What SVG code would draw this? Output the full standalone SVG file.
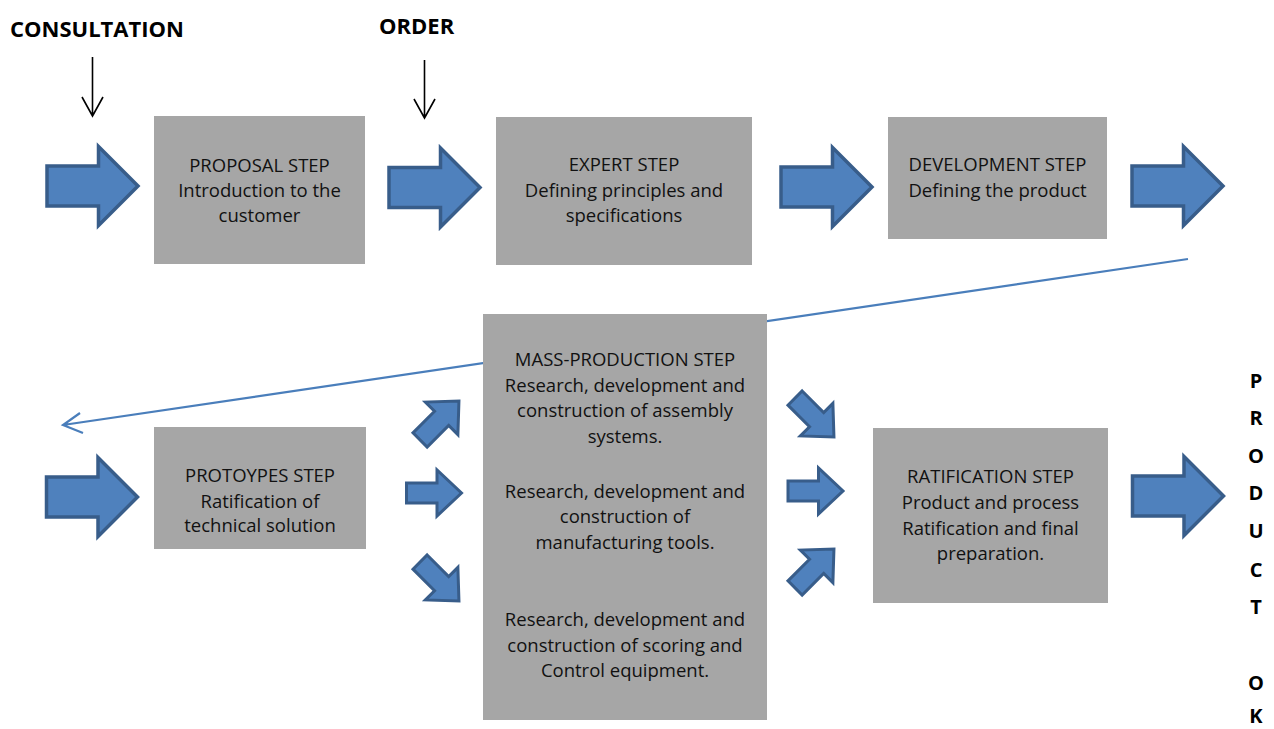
<svg xmlns="http://www.w3.org/2000/svg" xmlns:xlink="http://www.w3.org/1999/xlink" width="1274" height="729" viewBox="0 0 1274 729">
<style>
.box{fill:#A6A6A6}
.t{font-family:"Open Sans","Liberation Sans",sans-serif;font-size:18.5px;fill:#111;text-anchor:middle}
.lb{font-family:"Open Sans","Liberation Sans",sans-serif;font-weight:bold;font-size:22px;fill:#000}
.pk{font-family:"Open Sans","Liberation Sans",sans-serif;font-weight:bold;font-size:20px;fill:#000;text-anchor:middle}
.ba{fill:#4F81BD;stroke:#385D8A;stroke-width:3.5;stroke-linejoin:miter}
.sa{fill:#4F81BD;stroke:#385D8A;stroke-width:3;stroke-linejoin:miter}
.thin{stroke:#000;stroke-width:1.6;fill:none}
.blue{stroke:#4A7EBB;stroke-width:2.2;fill:none}
</style>
<defs>
<path id="big" d="M-45.5,-20 H6 V-39.5 L45.5,0 L6,39.5 V20 H-45.5 Z"/>
<path id="small" d="M-27.5,-10 H3 V-23 L27.5,0 L3,23 V10 H-27.5 Z"/>
</defs>
<rect width="1274" height="729" fill="#fff"/>

<g id="connectors">
<path class="blue" d="M1188,259 L63,425 M80,413 L63,425 L83,433"/>
<path class="thin" d="M92.5,57 V116 M82,97 L92.5,116 L103,97"/>
<path class="thin" d="M424.5,60 V118 M414,99 L424.5,118 L435,99"/>
<use href="#big" class="ba" transform="translate(92.5,186)"/>
<use href="#big" class="ba" transform="translate(434.5,187.5)"/>
<use href="#big" class="ba" transform="translate(826.5,187)"/>
<use href="#big" class="ba" transform="translate(1177.5,186)"/>
<use href="#big" class="ba" transform="translate(92,497)"/>
<use href="#big" class="ba" transform="translate(1178,496)"/>
<use href="#small" class="sa" transform="translate(439.5,420.5) rotate(-45)"/>
<use href="#small" class="sa" transform="translate(434,493)"/>
<use href="#small" class="sa" transform="translate(439.5,581.5) rotate(45)"/>
<use href="#small" class="sa" transform="translate(814.5,417.5) rotate(45)"/>
<use href="#small" class="sa" transform="translate(815.5,491)"/>
<use href="#small" class="sa" transform="translate(814.5,568.5) rotate(-45)"/>
</g>

<g id="label-consultation"><text class="lb" x="10" y="37">CONSULTATION</text></g>
<g id="label-order"><text class="lb" x="379" y="34">ORDER</text></g>

<g id="proposal">
<rect class="box" x="154" y="116" width="211" height="148"/>
<text class="t" x="259.5" y="172">PROPOSAL STEP</text>
<text class="t" x="259.5" y="197">Introduction to the</text>
<text class="t" x="259.5" y="222">customer</text>
</g>

<g id="expert">
<rect class="box" x="496" y="117" width="256" height="148"/>
<text class="t" x="624" y="171">EXPERT STEP</text>
<text class="t" x="624" y="197">Defining principles and</text>
<text class="t" x="624" y="222">specifications</text>
</g>

<g id="development">
<rect class="box" x="888" y="117" width="219" height="122"/>
<text class="t" x="997.5" y="171">DEVELOPMENT STEP</text>
<text class="t" x="997.5" y="197">Defining the product</text>
</g>

<g id="prototypes">
<rect class="box" x="154" y="427" width="212" height="122"/>
<text class="t" x="260" y="482">PROTOYPES STEP</text>
<text class="t" x="260" y="508">Ratification of</text>
<text class="t" x="260" y="532">technical solution</text>
</g>

<g id="mass-production">
<rect class="box" x="483" y="314" width="284" height="406"/>
<text class="t" x="625" y="366">MASS-PRODUCTION STEP</text>
<text class="t" x="625" y="392">Research, development and</text>
<text class="t" x="625" y="417">construction of assembly</text>
<text class="t" x="625" y="443">systems.</text>
<text class="t" x="625" y="498">Research, development and</text>
<text class="t" x="625" y="523">construction of</text>
<text class="t" x="625" y="549">manufacturing tools.</text>
<text class="t" x="625" y="626">Research, development and</text>
<text class="t" x="625" y="652">construction of scoring and</text>
<text class="t" x="625" y="677">Control equipment.</text>
</g>

<g id="ratification">
<rect class="box" x="873" y="428" width="235" height="175"/>
<text class="t" x="990.5" y="483">RATIFICATION STEP</text>
<text class="t" x="990.5" y="509">Product and process</text>
<text class="t" x="990.5" y="535">Ratification and final</text>
<text class="t" x="990.5" y="560">preparation.</text>
</g>

<g id="product-ok">
<text class="pk" x="1256" y="388">P</text>
<text class="pk" x="1256" y="425">R</text>
<text class="pk" x="1256" y="463">O</text>
<text class="pk" x="1256" y="500">D</text>
<text class="pk" x="1256" y="538">U</text>
<text class="pk" x="1256" y="577">C</text>
<text class="pk" x="1256" y="614">T</text>
<text class="pk" x="1256" y="690">O</text>
<text class="pk" x="1256" y="723">K</text>
</g>
</svg>
